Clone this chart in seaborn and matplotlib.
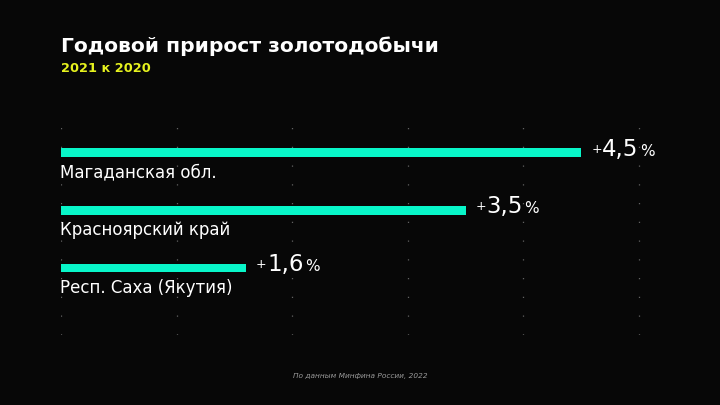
import matplotlib
matplotlib.use("Agg")
import matplotlib.pyplot as plt
import seaborn as sns
import pandas as pd
from matplotlib.transforms import offset_copy

regions = ["Магаданская обл.", "Красноярский край", "Респ. Саха (Якутия)"]
growth = [4.5, 3.5, 1.6]
value_labels = ["4,5", "3,5", "1,6"]
grid_ticks = [0, 1, 2, 3, 4, 5]

title = "Годовой прирост золотодобычи"
subtitle = "2021 к 2020"
source = "По данным Минфина России, 2022"

BG = "#070707"
BAR = "#08f6c9"
YELLOW = "#e6f21e"

sns.set_theme(style="dark")
plt.rcParams["font.family"] = ["DejaVu Sans"]

df = pd.DataFrame({"region": regions, "growth": growth})

XMAX = 5.05
fig = plt.figure(figsize=(7.2, 4.05), dpi=100, facecolor=BG)
ax = fig.add_axes([61 / 720, 1 - 335 / 405, 578 / 720 * XMAX / 5, 215 / 405])
ax.set_facecolor(BG)

sns.barplot(data=df, x="growth", y="region", orient="h", color=BAR,
            width=0.15, saturation=1, edgecolor="none", ax=ax)

ppu = 57.75
ax.set_xlim(0, XMAX)
ax.set_ylim(2 + (335 - 268) / ppu, -(152.5 - 120) / ppu)
ax.set_xticks(grid_ticks)
ax.set_xticklabels([])
ax.set_yticks([])
ax.set_xlabel("")
ax.set_ylabel("")
ax.tick_params(length=0)
for s in ax.spines.values():
    s.set_visible(False)
ax.xaxis.grid(True, linestyle=(0, (1, 14)), color="#8a8a8a", linewidth=0.9, alpha=0.7)
ax.yaxis.grid(False)
ax.set_axisbelow(True)

# category labels below bars
for i, name in enumerate(regions):
    ax.text(0, i + 0.34, name, color="white", fontsize=12, va="center", ha="left",
            transform=offset_copy(ax.transData, fig=fig, x=-1, y=0, units="dots"))

fig.canvas.draw()
renderer = fig.canvas.get_renderer()
for i, (v, lab) in enumerate(zip(growth, value_labels)):
    yb = i + 3 / ppu
    ax.text(v, yb, "+", color="white", fontsize=9, va="baseline", ha="left",
            transform=offset_copy(ax.transData, fig=fig, x=10, y=3, units="dots"))
    t = ax.text(v, yb, lab, color="white", fontsize=16.5, va="baseline", ha="left",
                transform=offset_copy(ax.transData, fig=fig, x=21, y=0, units="dots"))
    bb = t.get_window_extent(renderer=renderer)
    x_end = bb.x1
    x0 = ax.transData.transform((v, yb))[0]
    ax.text(v, yb, "%", color="white", fontsize=11, va="baseline", ha="left",
            transform=offset_copy(ax.transData, fig=fig, x=(x_end - x0) + 1.5, y=0, units="dots"))

fig.text(61 / 720, 1 - 46 / 405, title, color="white", fontsize=14.6, fontweight="bold",
         va="center", ha="left")
fig.text(61 / 720, 1 - 68 / 405, subtitle, color=YELLOW, fontsize=9.3, fontweight="bold",
         va="center", ha="left")
fig.text(360 / 720, 1 - 376 / 405, source, color="#9a9a9a", fontsize=5.3, style="italic",
         va="center", ha="center")

fig.savefig("out.png", dpi=100, facecolor=BG)
